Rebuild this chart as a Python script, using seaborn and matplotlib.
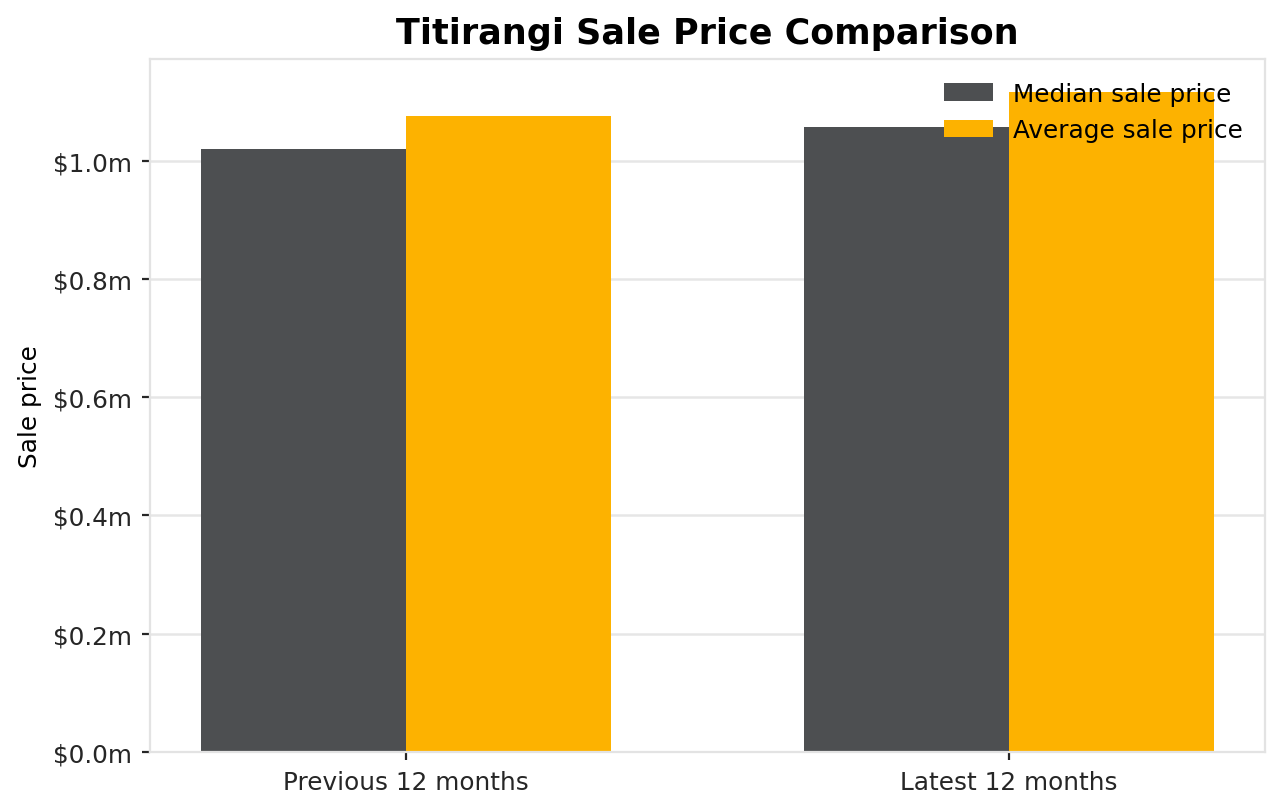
import pandas as pd
import seaborn as sns
import matplotlib.pyplot as plt
from matplotlib.ticker import FuncFormatter

# values (dollars)
periods = ["Previous 12 months", "Latest 12 months"]
median_price = [1020000, 1056000]
average_price = [1076000, 1115000]
measures = ["Median sale price", "Average sale price"]
colours = ["#4d4f51", "#fdb200"]

df = pd.DataFrame({
    "period": periods * 2,
    "price": median_price + average_price,
    "measure": [measures[0]] * 2 + [measures[1]] * 2,
})

sns.set_style("whitegrid", {
    "axes.edgecolor": "#e3e3e3",
    "grid.color": "#e6e6e6",
    "xtick.bottom": True,
    "ytick.left": True,
})
plt.rcParams["font.family"] = ["DejaVu Sans"]

fig, ax = plt.subplots(figsize=(6.415, 4.06), dpi=200)
group_width = 0.68
sns.barplot(data=df, x="period", y="price", hue="measure", palette=colours,
            width=group_width, gap=0, saturation=1, errorbar=None,
            linewidth=0, ax=ax)

# matplotlib-style 5% margins instead of seaborn's categorical limits
pad = 0.05 * (len(periods) - 1 + group_width)
ax.set_xlim(-group_width / 2 - pad, len(periods) - 1 + group_width / 2 + pad)
ax.set_axisbelow(True)
ax.grid(axis="x", visible=False)
ax.grid(axis="y", linewidth=0.9)
for s in ax.spines.values():
    s.set_linewidth(0.8)

ax.yaxis.set_major_formatter(FuncFormatter(lambda v, p: f"${v / 1e6:.1f}m"))
ax.tick_params(axis="both", labelsize=8.9, length=3, width=0.8, colors="#262626")
ax.set_xlabel("")
ax.set_ylabel("Sale price", fontsize=8.9, color="black")
ax.set_title("Titirangi Sale Price Comparison", fontsize=12.6,
             fontweight="bold", color="black")
leg = ax.legend(title=None, frameon=False, loc="upper right", fontsize=8.9)
for t in leg.get_texts():
    t.set_color("black")

fig.subplots_adjust(left=0.117, right=0.986, top=0.9255, bottom=0.0725)
fig.savefig("out.png", dpi=200)
